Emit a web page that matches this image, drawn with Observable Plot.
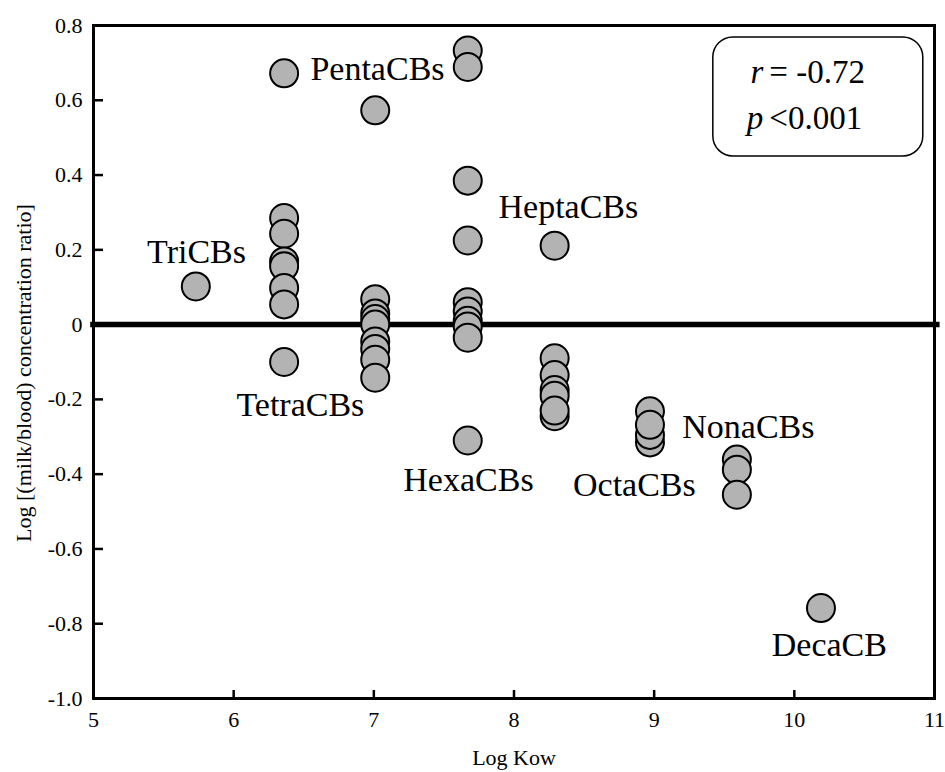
<!DOCTYPE html>
<html>
<head>
<meta charset="utf-8">
<script src="https://cdn.jsdelivr.net/npm/d3@7"></script>
<script src="https://cdn.jsdelivr.net/npm/@observablehq/plot@0.6"></script>
<style>
  html, body { margin: 0; padding: 0; background: #fff; }
  #chart { width: 945px; height: 772px; }
  #chart svg text { font-family: 'Liberation Serif', 'Times New Roman', serif; }
</style>
</head>
<body>
<div id="chart"></div>
<script>
// ---- data ----
const homologs = ["TriCBs", "TetraCBs", "PentaCBs", "HexaCBs", "HeptaCBs", "OctaCBs", "NonaCBs", "DecaCB"];
const logKow = [5.73, 6.36, 7.01, 7.67, 8.29, 8.97, 9.59, 10.19];
const ratios = [
  [0.102],
  [0.672, 0.285, 0.243, 0.169, 0.156, 0.098, 0.054, -0.100],
  [0.573, 0.068, 0.030, 0.015, 0.000, -0.045, -0.065, -0.094, -0.142],
  [0.733, 0.689, 0.385, 0.225, 0.060, 0.035, 0.010, -0.005, -0.035, -0.310],
  [0.211, -0.090, -0.135, -0.175, -0.190, -0.245, -0.230],
  [-0.232, -0.315, -0.295, -0.268],
  [-0.361, -0.388, -0.455],
  [-0.758]
];
// group label anchor points (data units: log Kow, log ratio)
const labelX = [5.735, 6.476, 7.026, 7.675, 8.388, 8.859, 9.672, 10.25];
const labelY = [0.166, -0.2435, 0.653, -0.444, 0.286, -0.458, -0.302, -0.886];

const xTicks = [5, 6, 7, 8, 9, 10, 11];
const xTickLabels = ["5", "6", "7", "8", "9", "10", "11"];
const yTicks = [-1.0, -0.8, -0.6, -0.4, -0.2, 0, 0.2, 0.4, 0.6, 0.8];
const yTickLabels = ["-1.0", "-0.8", "-0.6", "-0.4", "-0.2", "0", "0.2", "0.4", "0.6", "0.8"];

const xLabel = "Log Kow";
const yLabel = "Log [(milk/blood) concentration ratio]";

const statSymbols = ["r", "p"];
const statValues = ["= -0.72", "<0.001"];
const statX = [9.786, 9.786];
const statY = [0.645, 0.524];
const statBox = [{x1: 9.422, x2: 10.92, y1: 0.4496, y2: 0.768}];

// ---- build tables ----
const points = [];
homologs.forEach((h, i) => ratios[i].forEach(v => points.push({group: h, kow: logKow[i], ratio: v})));
const groupLabels = homologs.map((h, i) => ({name: h, x: labelX[i], y: labelY[i]}));
const stats = statSymbols.map((s, i) => ({sym: s, val: statValues[i], x: statX[i], y: statY[i]}));
const yTickTable = yTicks.map((v, i) => ({v, label: yTickLabels[i]}));
const xTickTable = xTicks.map((v, i) => ({v, label: xTickLabels[i]}));

const FONT = "'Liberation Serif', 'Times New Roman', serif";
const [xMin, xMax] = [5, 11];
const [yMin, yMax] = [-1, 0.8];
const W = 945, H = 772, ML = 93, MR = 11, MT = 25, MB = 74;
// tick lengths converted from pixels into data units
const yTickLen = 10 * (xMax - xMin) / (W - ML - MR);
const xTickLen = 8 * (yMax - yMin) / (H - MT - MB);

const chart = Plot.plot({
  width: W,
  height: H,
  marginLeft: ML,
  marginRight: MR,
  marginTop: MT,
  marginBottom: MB,
  x: {domain: [xMin, xMax], axis: null},
  y: {domain: [yMin, yMax], axis: null},
  style: {fontFamily: FONT, fontSize: "22px", background: "#fff", color: "#000", overflow: "visible"},
  marks: [
    // tick labels
    Plot.text(yTickTable, {x: xMin, y: "v", text: "label", textAnchor: "end", dx: -11, fontSize: 22, fontFamily: FONT, fill: "#000", clip: false}),
    Plot.text(xTickTable, {x: "v", y: yMin, text: "label", lineAnchor: "top", dy: 13, fontSize: 22, fontFamily: FONT, fill: "#000", clip: false}),
    // inward tick marks
    Plot.ruleY(yTicks, {y: d => d, x1: xMin, x2: xMin + yTickLen, stroke: "#000", strokeWidth: 2.5}),
    Plot.ruleX(xTicks, {x: d => d, y1: yMin, y2: yMin + xTickLen, stroke: "#000", strokeWidth: 2.5}),
    Plot.frame({stroke: "#000", strokeWidth: 3}),
    Plot.ruleY([0], {x1: xMin - 0.02, x2: xMax + 0.04, stroke: "#000", strokeWidth: 5.5, clip: false}),
    Plot.dot(points, {x: "kow", y: "ratio", r: 14, fill: "#b3b3b3", stroke: "#000", strokeWidth: 2}),
    Plot.text(groupLabels, {x: "x", y: "y", text: "name", fontSize: 34, fontFamily: FONT, lineAnchor: "bottom", textAnchor: "middle", fill: "#000"}),
    Plot.rect(statBox, {x1: "x1", x2: "x2", y1: "y1", y2: "y2", rx: 20, fill: "none", stroke: "#000", strokeWidth: 1.5}),
    Plot.text(stats, {x: "x", y: "y", text: "sym", fontSize: 33, fontFamily: FONT, fontStyle: "italic", textAnchor: "end", lineAnchor: "bottom", dx: -1, fill: "#000"}),
    Plot.text(stats, {x: "x", y: "y", text: "val", fontSize: 33, fontFamily: FONT, textAnchor: "start", lineAnchor: "bottom", dx: 5, fill: "#000"}),
    Plot.text([xLabel], {frameAnchor: "bottom", text: d => d, dy: 59, lineAnchor: "middle", textAnchor: "middle", fontSize: 22, fontFamily: FONT, fill: "#000"}),
    Plot.text([yLabel], {frameAnchor: "left", text: d => d, rotate: -90, dx: -70, dy: 11, lineAnchor: "middle", textAnchor: "middle", fontSize: 22, fontFamily: FONT, fill: "#000"})
  ]
});
document.getElementById("chart").appendChild(chart);
</script>
</body>
</html>
